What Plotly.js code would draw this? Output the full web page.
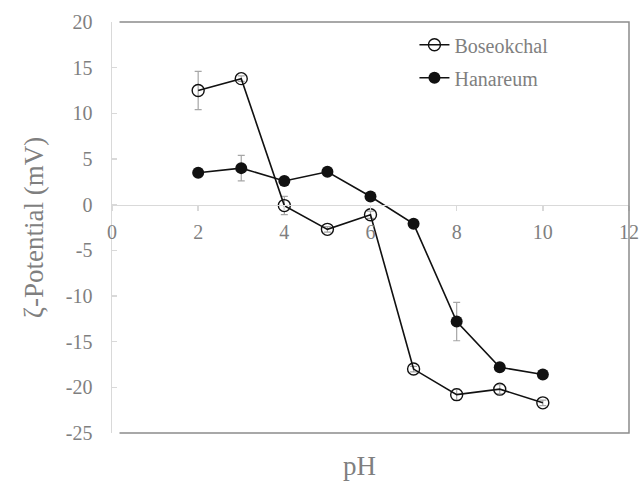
<!DOCTYPE html>
<html>
<head>
<meta charset="utf-8">
<script src="https://cdn.plot.ly/plotly-3.0.1.min.js"></script>
<style>html,body{margin:0;padding:0;background:#fff;}#chart{width:641px;height:482px;}</style>
</head>
<body>
<div id="chart"></div>
<script>
var pH = [2, 3, 4, 5, 6, 7, 8, 9, 10];
var boseokchal = [12.5, 13.8, -0.1, -2.7, -1.1, -18.0, -20.8, -20.2, -21.7];
var boseokchalErr = [2.1, 0.3, 1.0, 0.3, 0.4, 0.3, 0.6, 0.5, 0.3];
var hanareum = [3.5, 4.0, 2.6, 3.6, 0.9, -2.1, -12.8, -17.8, -18.6];
var hanareumErr = [0.3, 1.4, 0.4, 0.3, 0.3, 0.3, 2.1, 0.3, 0.3];
var xTicks = [0, 2, 4, 6, 8, 10, 12];
var yTicks = [20, 15, 10, 5, 0, -5, -10, -15, -20, -25];

var gray = '#7f7f7f';
var serif = 'Liberation Serif';

var traces = [
  {
    x: pH, y: boseokchal, name: 'Boseokchal', type: 'scatter', mode: 'lines+markers',
    legendgroup: 'a',
    line: {color: '#111', width: 1.6},
    marker: {symbol: 'circle-open', size: 12, color: '#111', line: {width: 1.4, color: '#111'}},
    error_y: {type: 'data', array: boseokchalErr, visible: true, color: '#a6a6a6', thickness: 1.2, width: 3.5}
  },
  {
    x: pH, y: hanareum, name: 'Hanareum', type: 'scatter', mode: 'lines+markers',
    legendgroup: 'b',
    line: {color: '#111', width: 1.6},
    marker: {symbol: 'circle', size: 12, color: '#111'},
    error_y: {type: 'data', array: hanareumErr, visible: true, color: '#a6a6a6', thickness: 1.2, width: 3.5}
  }
];

var layout = {
  width: 641, height: 482,
  margin: {l: 112, r: 12, t: 22, b: 49},
  paper_bgcolor: '#fff', plot_bgcolor: '#fff',
  showlegend: true,
  legend: {
    x: 0.585, y: 0.992, xanchor: 'left', yanchor: 'top',
    font: {family: serif, size: 20, color: gray},
    bgcolor: 'rgba(0,0,0,0)', tracegroupgap: 4
  },
  xaxis: {
    range: [0, 12], tickvals: xTicks, ticktext: xTicks.map(String),
    anchor: 'free', position: 25 / 45,
    showgrid: false, zeroline: false,
    showline: true, linecolor: '#d9d9d9', linewidth: 1.5,
    ticks: 'outside', ticklen: 5, tickcolor: '#d9d9d9', tickwidth: 1.5,
    ticklabelstandoff: 4,
    tickfont: {family: serif, size: 20, color: gray},
    fixedrange: true
  },
  yaxis: {
    range: [-25, 20], tickvals: yTicks, ticktext: yTicks.map(String),
    showgrid: false, zeroline: false,
    showline: true, linecolor: '#d9d9d9', linewidth: 1.5,
    ticks: 'inside', ticklen: 5, tickcolor: '#d9d9d9', tickwidth: 1.5,
    ticklabelstandoff: 14,
    tickfont: {family: serif, size: 20, color: gray},
    title: {text: 'ζ-Potential (mV)', font: {family: serif, size: 27, color: gray}, standoff: 14},
    fixedrange: true
  },
  shapes: [
    {type: 'path', xref: 'paper', yref: 'paper',
     path: 'M 0.0145 1 L 1 1 L 1 0 L 0.0145 0',
     line: {color: '#8c8c8c', width: 1.5}}
  ],
  annotations: [
    {text: 'pH', xref: 'paper', yref: 'paper', x: 0.478, y: -0.08, xanchor: 'center', yanchor: 'middle',
     showarrow: false, font: {family: serif, size: 27, color: gray}}
  ]
};

Plotly.newPlot('chart', traces, layout, {displayModeBar: false, staticPlot: true});
</script>
</body>
</html>
